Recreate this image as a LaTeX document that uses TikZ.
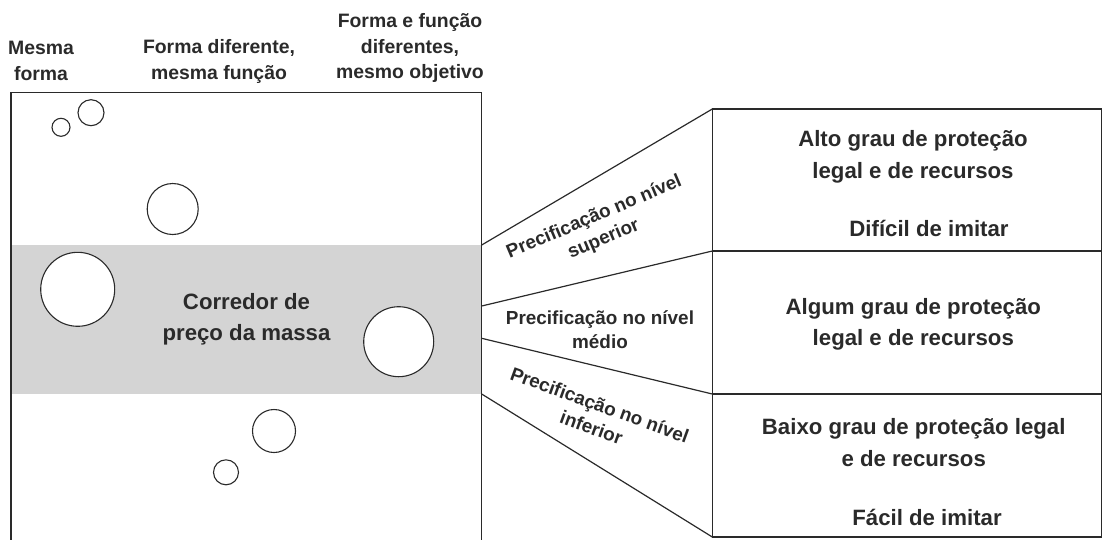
\documentclass[tikz,border=0pt]{standalone}
\usepackage{fontspec}
\setmainfont{Liberation Sans}
\usepackage{tikz}
\usetikzlibrary{positioning}
\definecolor{inkgray}{HTML}{2A2A2A}
\definecolor{bandgray}{HTML}{D4D4D4}
\tikzset{levelbox/.style={rectangle, draw=inkgray, line width=1.2pt, minimum width=389pt, inner sep=0pt, outer sep=0pt}}
\tikzset{bubble/.style={circle, draw=inkgray, fill=white, line width=1.1pt, inner sep=0pt}}
\tikzset{connector/.style={draw=inkgray, line width=1.2pt}}
\tikzset{headtext/.style={align=center, text=inkgray, inner sep=0pt, font=\bfseries\fontsize{19.4}{25.5}\selectfont}}
\tikzset{boxtext/.style={align=center, text=inkgray, inner sep=0pt, font=\bfseries\fontsize{22.2}{31.5}\selectfont}}
\tikzset{leveltext/.style={align=center, text=inkgray, inner sep=0pt, font=\bfseries\fontsize{18.9}{24}\selectfont}}

\begin{document}
\begin{tikzpicture}[x=1pt, y=-1pt]
    \useasboundingbox (0,0) rectangle (1102,539);

    \node[fill=bandgray, minimum width=470.7pt, minimum height=149pt, inner sep=0pt, outer sep=0pt, anchor=north west] (band) at (11,245) {};
    \draw[connector] (11,545) -- (11,92.7) -- (481.7,92.7) -- (481.7,545);

    \node[headtext]    (same)      at (41,61)       {Mesma\\forma};
    \node[headtext]    (function)  at (219,61.7)    {Forma diferente,\\mesma função};
    \node[headtext]    (goal)      at (410,48.3)    {Forma e função\\diferentes,\\mesmo objetivo};

    \node[bubble, minimum size=18pt]  (b1) at (61,127.3)   {};
    \node[bubble, minimum size=26pt]  (b2) at (91,112.7)   {};
    \node[bubble, minimum size=51pt]  (b3) at (172.7,209)  {};
    \node[bubble, minimum size=74pt]  (b4) at (77.7,289.3) {};
    \node[bubble, minimum size=70pt]  (b5) at (398.7,341.7) {};
    \node[bubble, minimum size=43pt]  (b6) at (274,431)    {};
    \node[bubble, minimum size=25pt]  (b7) at (226,472.3)  {};

    \node[boxtext]     (corridor)  at (246.5,319.3) {Corredor de\\preço da massa};

    \node[levelbox, minimum height=142pt, anchor=north west] (high) at (712.3,109) {};
    \node[levelbox, minimum height=143pt] (mid) [below=0pt of high] {};
    \node[levelbox, minimum height=143pt] (low) [below=0pt of mid]  {};

    \coordinate (midtop) at (481.7,306);
    \coordinate (midbot) at (481.7,338.3);

    \draw[connector] (band.north east) -- (high.north west);
    \draw[connector] (midtop) -- (mid.north west);
    \draw[connector] (midbot) -- (mid.south west);
    \draw[connector] (band.south east) -- (low.south west);

    \node[leveltext, rotate=23]  (upper)  at (599,228.4) {Precificação no nível\\superior};
    \node[leveltext]             (middle) at (600,330)   {Precificação no nível\\médio};
    \node[leveltext, rotate=-20] (lower)  at (595.6,416.1) {Precificação no nível\\inferior};

    \node[boxtext]               (hightext)  at (913,156.7)  {Alto grau de proteção\\legal e de recursos};
    \node[boxtext, anchor=base]  (hardcopy)  at (929,236.7)  {Difícil de imitar};
    \node[boxtext]               (midtext)   at (913.3,324.2) {Algum grau de proteção\\legal e de recursos};
    \node[boxtext]               (lowtext)   at (913.7,442.5) {Baixo grau de proteção legal\\e de recursos};
    \node[boxtext, anchor=base]  (easycopy)  at (927,525)    {Fácil de imitar};
\end{tikzpicture}
\end{document}
